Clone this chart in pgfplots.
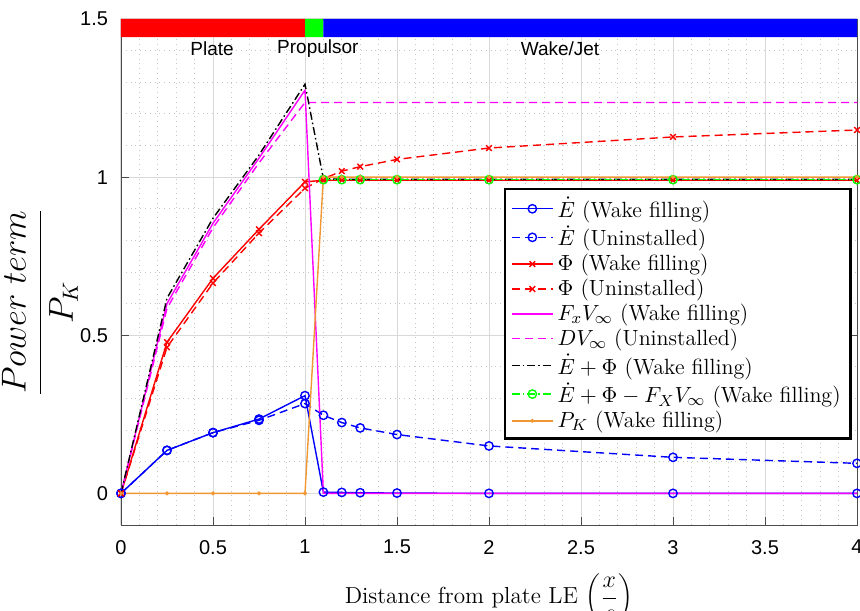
\documentclass[border=0pt]{standalone}
\usepackage{pgfplots}
\pgfplotsset{compat=1.18}
\usepackage{fontspec}
\setsansfont{Liberation Sans}
\definecolor{myorange}{RGB}{240,150,50}
\definecolor{mygreen}{RGB}{0,255,0}
\definecolor{myblue}{RGB}{0,0,255}
\definecolor{myred}{RGB}{255,0,0}
\definecolor{mymag}{RGB}{255,0,255}
\begin{document}
\begin{tikzpicture}
\begin{axis}[
  name=ax,
  scale only axis, width=368pt, height=253pt,
  xmin=0, xmax=4, ymin=-0.1, ymax=1.5,
  xtick={0,0.5,1,1.5,2,2.5,3,3.5,4}, ytick={0,0.5,1,1.5},
  minor x tick num=4, minor y tick num=4,
  grid=both,
  major grid style={black!15, line width=0.5pt},
  minor grid style={black!22, dotted, line width=0.4pt},
  tick align=inside,
  major tick length=4pt, minor tick length=0pt,
  axis line style={black!70},
  tick style={black!70},
  /pgf/number format/assume math mode=true,
  ticklabel style={font=\fontsize{10}{12}\sffamily},
  xticklabel style={yshift=-4pt},
  yticklabel style={xshift=-3pt},
  every axis x label/.style={at={(axis description cs:0.5,-0.156)}, anchor=base},
  every axis y label/.style={at={(axis description cs:-0.11,0.44)}, rotate=90, anchor=center},
  xlabel={\fontsize{11.6}{13}\selectfont Distance from plate LE $\displaystyle\left(\frac{x}{c}\right)$},
  ylabel={\fontsize{16}{19}\selectfont$\displaystyle\frac{Power\ term}{P_K}$},
  legend style={at={(axis description cs:0.993,0.666)}, anchor=north east,
    draw=black, line width=1.2pt, fill=white,
    font=\fontsize{11}{13.8}\selectfont, cells={anchor=west},
    inner xsep=3pt, inner ysep=2pt, row sep=-1.3pt},
  legend image post style={line width=0.7pt},
  legend image code/.code={\draw[mark repeat=2,mark phase=2] plot coordinates {(0cm,0cm) (0.36cm,0cm) (0.72cm,0cm)};},
]
% colored bar
\addplot[fill=myred, draw=none, forget plot] coordinates {(0,1.443) (1,1.443) (1,1.5) (0,1.5) (0,1.443)};
\addplot[fill=mygreen, draw=none, forget plot] coordinates {(1,1.443) (1.1,1.443) (1.1,1.5) (1,1.5) (1,1.443)};
\addplot[fill=myblue, draw=none, forget plot] coordinates {(1.1,1.443) (4,1.443) (4,1.5) (1.1,1.5) (1.1,1.443)};

\addplot[myblue, line width=0.7pt, mark=o, mark size=2.1pt] coordinates {
(0,0) (0.25,0.136) (0.5,0.192) (0.75,0.235) (1,0.309) (1.1,0.004) (1.2,0.003) (1.3,0.002) (1.5,0.001) (2,0) (3,0) (4,0)};
\addlegendentry{$\dot{E}$ (Wake filling)}
\addplot[myblue, line width=0.7pt, dash pattern=on 4pt off 2.5pt, mark=o, mark size=2.1pt, mark options={solid}] coordinates {
(0,0) (0.25,0.136) (0.5,0.192) (0.75,0.231) (1,0.284) (1.1,0.247) (1.2,0.224) (1.3,0.207) (1.5,0.186) (2,0.150) (3,0.114) (4,0.095)};
\addlegendentry{$\dot{E}$ (Uninstalled)}
\addplot[myred, line width=0.7pt, mark=x, mark size=2pt] coordinates {
(0,0) (0.25,0.478) (0.5,0.68) (0.75,0.835) (1,0.985) (1.1,0.99) (1.2,0.99) (1.3,0.99) (1.5,0.99) (2,0.99) (3,0.99) (4,0.99)};
\addlegendentry{$\Phi$ (Wake filling)}
\addplot[myred, line width=0.7pt, dash pattern=on 4pt off 2.5pt, mark=x, mark size=2pt, mark options={solid}] coordinates {
(0,0) (0.25,0.462) (0.5,0.665) (0.75,0.823) (1,0.965) (1.1,0.995) (1.2,1.019) (1.3,1.033) (1.5,1.056) (2,1.092) (3,1.127) (4,1.149)};
\addlegendentry{$\Phi$ (Uninstalled)}
\addplot[mymag, line width=0.7pt] coordinates {
(0,0) (0.25,0.60) (0.5,0.854) (0.75,1.06) (1,1.275) (1.1,0) (1.2,0) (1.3,0) (1.5,0) (2,0) (3,0) (4,0)};
\addlegendentry{$F_xV_\infty$ (Wake filling)}
\addplot[mymag, line width=0.7pt, dash pattern=on 4pt off 2.5pt] coordinates {
(0,0) (0.25,0.585) (0.5,0.84) (0.75,1.045) (1,1.236) (1.1,1.236) (1.2,1.236) (1.3,1.236) (1.5,1.236) (2,1.236) (3,1.236) (4,1.236)};
\addlegendentry{$DV_\infty$ (Uninstalled)}
\addplot[black, line width=0.7pt, dash pattern=on 4pt off 1.5pt on 0.8pt off 1.5pt] coordinates {
(0,0) (0.25,0.617) (0.5,0.870) (0.75,1.07) (1,1.294) (1.1,0.995) (1.2,0.993) (1.3,0.993) (1.5,0.993) (2,0.993) (3,0.993) (4,0.993)};
\addlegendentry{$\dot{E}+\Phi$ (Wake filling)}
\addplot[mygreen, line width=0.7pt, dash pattern=on 4pt off 1.5pt on 0.8pt off 1.5pt, mark=o, mark size=2.1pt, mark options={solid}] coordinates {
(1.1,0.992) (1.2,0.992) (1.3,0.992) (1.5,0.992) (2,0.992) (3,0.992) (4,0.992)};
\addlegendentry{$\dot{E}+\Phi-F_XV_\infty$ (Wake filling)}
\addplot[myorange, line width=0.7pt, mark=*, mark size=0.6pt] coordinates {
(0,0) (0.25,0) (0.5,0) (0.75,0) (1,0) (1.1,1.0) (1.2,1.0) (1.3,1.0) (1.5,1.0) (2,1.0) (3,1.0) (4,1.0)};
\addlegendentry{$P_K$ (Wake filling)}

\node[font=\fontsize{9.5}{11}\sffamily] at (axis cs:0.495,1.405) {Plate};
\node[font=\fontsize{9.5}{11}\sffamily] at (axis cs:1.07,1.405) {Propulsor};
\node[font=\fontsize{9.5}{11}\sffamily] at (axis cs:2.386,1.405) {Wake/Jet};
\end{axis}
\pgfresetboundingbox
\path ([shift={(-60.5pt,-42.5pt)}]ax.south west) rectangle ([shift={(1.5pt,9.5pt)}]ax.north east);
\end{tikzpicture}
\end{document}
